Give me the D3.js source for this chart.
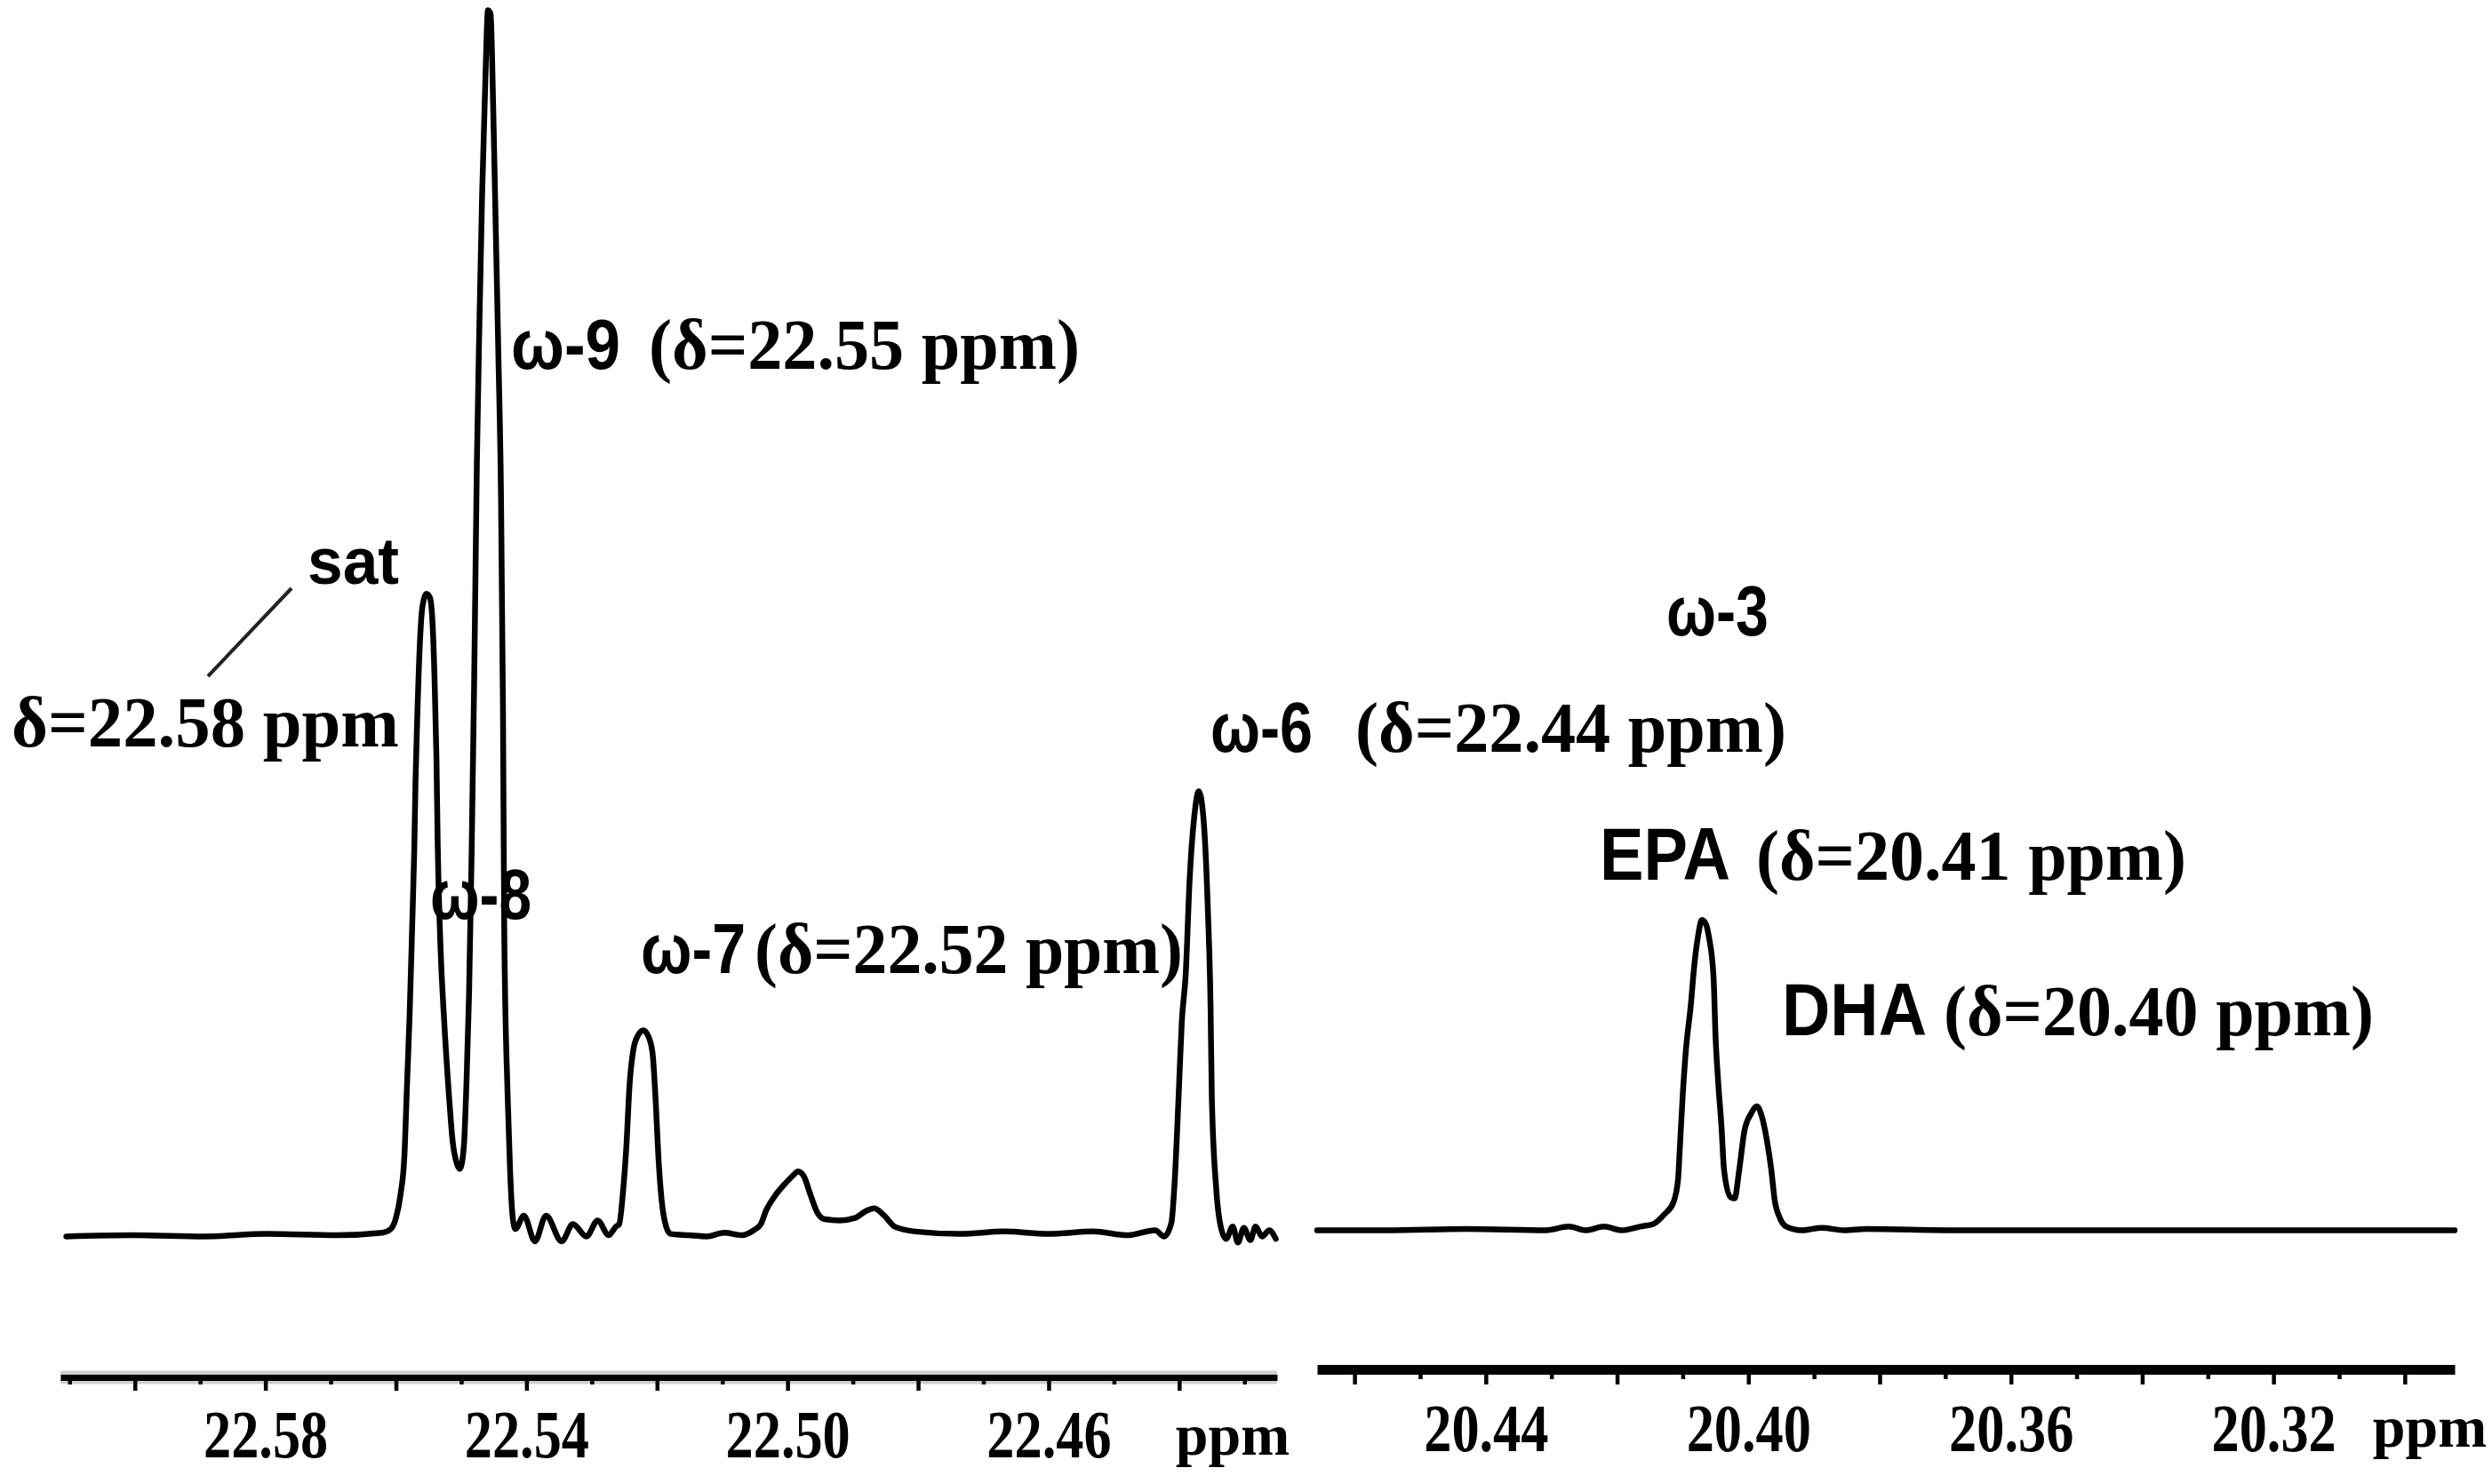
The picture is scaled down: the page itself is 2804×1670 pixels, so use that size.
<!DOCTYPE html>
<html><head><meta charset="utf-8">
<script src="https://cdn.jsdelivr.net/npm/d3@7"></script>
<style>html,body{margin:0;padding:0;background:#fff;}svg{display:block;}</style>
</head><body>
<svg id="chart" width="2804" height="1670"></svg>
<script>
// ---------------- DATA ----------------
// Left panel: 13C NMR trace, chemical shift (ppm) and relative intensity
const leftPpm = [22.6105, 22.6003, 22.5894, 22.5798, 22.5690, 22.5621, 22.5608, 22.5600, 22.5593, 22.5587, 22.5583, 22.5579, 22.5575, 22.5572, 22.5570, 22.5567, 22.5563, 22.5559, 22.5553, 22.5548, 22.5544, 22.5541, 22.5538, 22.5536, 22.5532, 22.5526, 22.5519, 22.5513, 22.5507, 22.5502,
 22.5496, 22.5492, 22.5488, 22.5484, 22.5480, 22.5476, 22.5472, 22.5468, 22.5463, 22.5459, 22.5455, 22.5451, 22.5447, 22.5443, 22.5439, 22.5436, 22.5434, 22.5429, 22.5425, 22.5421, 22.5417,
 22.5404, 22.5387, 22.5370, 22.5346, 22.5329, 22.5308, 22.5291, 22.5274, 22.5263,
 22.5258, 22.5252, 22.5247, 22.5242, 22.5236, 22.5229, 22.5221, 22.5214, 22.5207, 22.5202, 22.5198, 22.5193, 22.5186, 22.5179, 22.5152, 22.5124, 22.5097, 22.5070, 22.5052,
 22.5041, 22.5033, 22.5018, 22.5002, 22.4991, 22.4984, 22.4975, 22.4965, 22.4954, 22.4943, 22.4920, 22.4897, 22.4879, 22.4867, 22.4852, 22.4836, 22.4804, 22.4736, 22.4668, 22.4600, 22.4532, 22.4478, 22.4437, 22.4423,
 22.4412, 22.4407, 22.4401, 22.4396, 22.4390, 22.4384, 22.4377, 22.4370, 22.4363, 22.4356, 22.4352, 22.4350, 22.4343, 22.4335, 22.4328, 22.4318, 22.4310, 22.4301, 22.4291, 22.4283, 22.4273, 22.4262, 22.4252];
const leftIntensity = [-0.1, 0, -0.1, 0.1, 0, 0.2, 0.5, 1.4, 3.3, 6.5, 12.3, 18.0, 25.4, 31.2, 37.0, 42.8, 48.6, 51.4, 52.3, 52.0, 50.0, 45.7, 39.1, 31.9, 23.9, 17.4, 11.6, 7.6, 5.9, 5.4,
 7.2, 12.3, 19.6, 31.2, 45.7, 63.0, 74.6, 84.8, 94.2, 99.9, 99.6, 92.0, 81.9, 71.7, 60.1, 42.8, 24.6, 11.6, 5.1, 1.4, 0.5,
 1.6, -0.5, 1.6, -0.5, 0.9, -0.1, 1.2, 0, 0.7,
 0.9, 3.6, 7.2, 12.3, 15.2, 16.3, 16.7, 16.3, 14.9, 10.9, 6.5, 2.9, 0.7, 0.1, 0, -0.1, 0.2, 0, 0.4,
 0.9, 2.0, 3.3, 4.3, 4.9, 5.2, 4.8, 3.3, 1.8, 1.3, 1.2, 1.4, 2.0, 2.2, 1.6, 0.7, 0.3, 0.1, 0.3, 0.1, 0.3, 0, 0.4, -0.1,
 1.0, 4.3, 11.2, 17.4, 21.3, 29.0, 34.1, 36.2, 34.1, 26.4, 18.8, 11.2, 3.6, 0.4, -0.3, 0.7, -0.6, 0.6, -0.4, 0.7, -0.1, 0.4, -0.3];

// Right panel
const rightPpm = [20.4657, 20.4551, 20.4429, 20.4308, 20.4274, 20.4247, 20.4220, 20.4193, 20.4165, 20.4145, 20.4128, 20.4114, 20.4107, 20.4105, 20.4100, 20.4095, 20.4088, 20.4082, 20.4076, 20.4071, 20.4065, 20.4060, 20.4053, 20.4050, 20.4046, 20.4041, 20.4037, 20.4027, 20.4021, 20.4014, 20.4006, 20.3996, 20.3987, 20.3979, 20.3972, 20.3965, 20.3960, 20.3952, 20.3942, 20.3919, 20.3888, 20.3854, 20.3820, 20.3685, 20.3482, 20.3279, 20.3076, 20.2924];
const rightIntensity = [0.4, 0.4, 0.5, 0.4, 0.7, 0.4, 0.7, 0.4, 0.7, 0.9, 1.7, 2.7, 4.6, 6.5, 11.4, 15.2, 18.6, 22.2, 24.6, 25.7, 25.4, 24.3, 21.0, 16.2, 12.5, 8.9, 5.3, 3.1, 3.0, 5.3, 8.5, 9.9, 10.5, 9.6, 7.8, 5.3, 2.9, 1.4, 0.7, 0.4, 0.6, 0.4, 0.5, 0.4, 0.4, 0.4, 0.4, 0.4];

// Axis ranges and ticks
const leftDomain = [22.6114, 22.4250];
const rightDomain = [20.4657, 20.2924];
const leftMajorTicks = [22.60, 22.58, 22.56, 22.54, 22.52, 22.50, 22.48, 22.46, 22.44];
const leftMinorTicks = [22.61, 22.59, 22.57, 22.55, 22.53, 22.51, 22.49, 22.47, 22.45, 22.43];
const leftTickLabels = [22.58, 22.54, 22.50, 22.46];
const rightMajorTicks = [20.46, 20.44, 20.42, 20.40, 20.38, 20.36, 20.34, 20.32, 20.30];
const rightMinorTicks = [20.45, 20.43, 20.41, 20.39, 20.37, 20.35, 20.33, 20.31];
const rightTickLabels = [20.44, 20.40, 20.36, 20.32];
const axisUnit = "ppm";

// Peak annotations
const peakNames = ["ω-9", "ω-8", "ω-7", "ω-6", "ω-3", "EPA", "DHA", "sat"];
const peakShifts = ["(δ=22.55 ppm)", "", "(δ=22.52 ppm)", "(δ=22.44 ppm)", "", "(δ=20.41 ppm)", "(δ=20.40 ppm)", "δ=22.58 ppm"];

// ---------------- LAYOUT ----------------
const W = 2804, H = 1670;
const labelLayout = [
  {nx: 575, nw: 123, sx: 730, sw: 485, y: 415, sy: 415, fs: 80},
  {nx: 484, nw: 114, sx: 0, sw: 0, y: 1034, sy: 1034, fs: 80},
  {nx: 721, nw: 118, sx: 849, sw: 482, y: 1095, sy: 1095, fs: 80},
  {nx: 1362, nw: 115, sx: 1525, sw: 485, y: 846, sy: 846, fs: 80},
  {nx: 1875, nw: 115, sx: 0, sw: 0, y: 715, sy: 715, fs: 80},
  {nx: 1800, nw: 147, sx: 1976, sw: 484, y: 990, sy: 990, fs: 84},
  {nx: 2005, nw: 163, sx: 2187, sw: 484, y: 1165, sy: 1165, fs: 84},
  {nx: 346, nw: 103, sx: 13, sw: 436, y: 657, sy: 840, fs: 74}
];
const serif = "'Liberation Serif','Times New Roman',serif";
const sans = "'Liberation Sans',Arial,sans-serif";

const svg = d3.select("#chart");
svg.append("rect").attr("width", W).attr("height", H).attr("fill", "#fff");

const yScale = d3.scaleLinear().domain([0, 100]).range([1390, 10]);
const xLeft = d3.scaleLinear().domain(leftDomain).range([68, 1437]);
const xRight = d3.scaleLinear().domain(rightDomain).range([1482, 2762]);

function drawTrace(xs, ppm, inten) {
  const pts = ppm.map((p, i) => [p, inten[i]]);
  const line = d3.line().x(d => xs(d[0])).y(d => yScale(d[1])).curve(d3.curveMonotoneX);
  svg.append("path").datum(pts).attr("d", line)
    .attr("fill", "none").attr("stroke", "#000").attr("stroke-width", 6.5)
    .attr("stroke-linejoin", "round").attr("stroke-linecap", "round");
}
drawTrace(xLeft, leftPpm, leftIntensity);
drawTrace(xRight, rightPpm, rightIntensity);

function drawAxis(xs, yLine, lineW, majorLen, minorLen, major, minor, labels, labelBase, unitX, unitBase, band) {
  if (band) {
    svg.append("line").attr("x1", xs.range()[0]).attr("x2", xs.range()[1])
      .attr("y1", yLine).attr("y2", yLine).attr("stroke", "#cfcfcf").attr("stroke-width", 15);
  }
  const gMinor = svg.append("g").attr("transform", `translate(0,${yLine})`)
    .call(d3.axisBottom(xs).tickValues(minor).tickSize(minorLen).tickSizeOuter(0).tickFormat(""));
  gMinor.select(".domain").remove();
  gMinor.selectAll(".tick line").attr("stroke", "#000").attr("stroke-width", 4.5);
  const gMajor = svg.append("g").attr("transform", `translate(0,${yLine})`)
    .call(d3.axisBottom(xs).tickValues(major).tickSize(majorLen).tickSizeOuter(0).tickFormat(""));
  gMajor.select(".domain").attr("stroke", "#000").attr("stroke-width", lineW);
  gMajor.selectAll(".tick line").attr("stroke", "#000").attr("stroke-width", 4.5);
  const gLab = svg.append("g").attr("transform", `translate(0,${labelBase})`)
    .call(d3.axisBottom(xs).tickValues(labels).tickSize(0).tickSizeOuter(0).tickFormat(d3.format(".2f")));
  gLab.select(".domain").remove();
  gLab.selectAll(".tick text")
    .attr("y", 0).attr("dy", null)
    .attr("transform", "scale(0.82,1)")
    .attr("fill", "#000")
    .style("font-family", serif).style("font-weight", "bold").style("font-size", "76px");
  svg.append("text").attr("x", unitX).attr("y", unitBase).attr("text-anchor", "middle")
    .style("font-family", serif).style("font-weight", "bold").style("font-size", "66px")
    .text(axisUnit);
}
drawAxis(xLeft, 1550, 7, 15, 8, leftMajorTicks, leftMinorTicks, leftTickLabels, 1640, 1387, 1637, true);
drawAxis(xRight, 1541, 11, 17, 11, rightMajorTicks, rightMinorTicks, rightTickLabels, 1633, 2734, 1628, false);

// Annotations
peakNames.forEach((name, i) => {
  const L = labelLayout[i];
  svg.append("text").attr("x", L.nx).attr("y", L.y)
    .attr("textLength", L.nw).attr("lengthAdjust", "spacingAndGlyphs")
    .style("font-family", sans).style("font-weight", "bold").style("font-size", L.fs + "px")
    .attr("fill", "#000").text(name);
  if (peakShifts[i]) {
    svg.append("text").attr("x", L.sx).attr("y", L.sy)
      .attr("textLength", L.sw).attr("lengthAdjust", "spacingAndGlyphs")
      .style("font-family", serif).style("font-weight", "bold").style("font-size", "80px")
      .attr("fill", "#000").text(peakShifts[i]);
  }
});
// leader line from "sat" to its shift label
svg.append("line").attr("x1", 328).attr("y1", 662).attr("x2", 234).attr("y2", 761)
  .attr("stroke", "#222").attr("stroke-width", 4);
</script>
</body></html>
